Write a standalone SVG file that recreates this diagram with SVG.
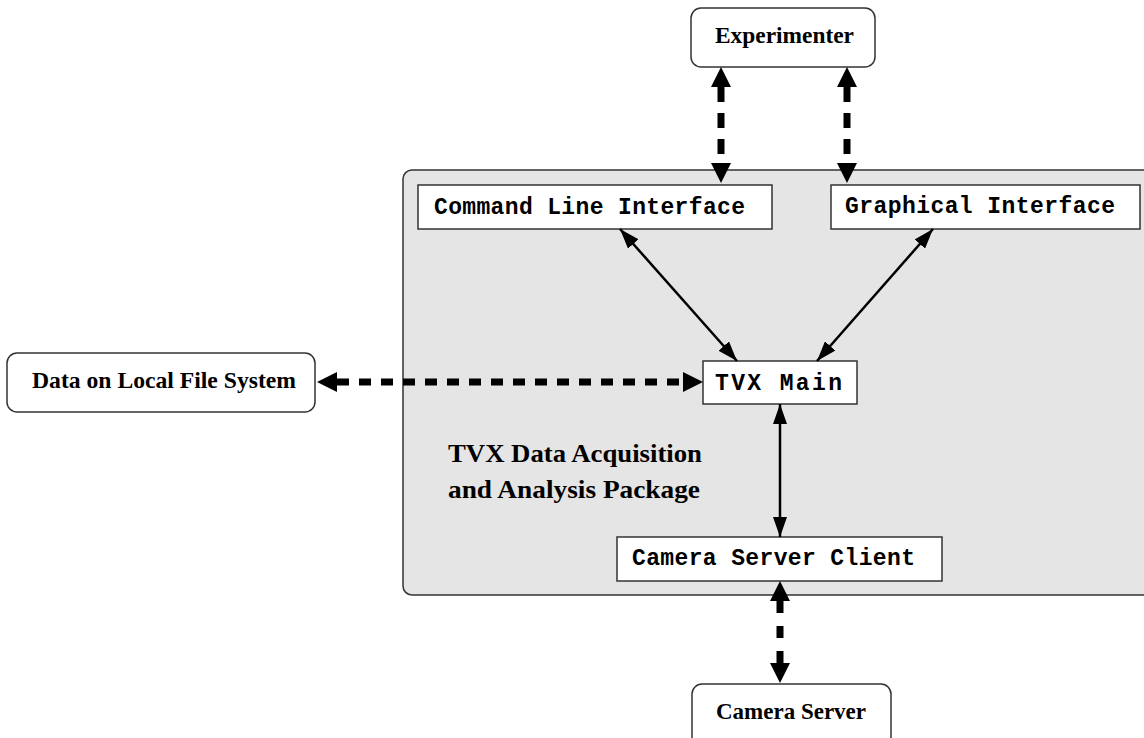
<svg xmlns="http://www.w3.org/2000/svg" width="1144" height="738" viewBox="0 0 1144 738">
<style>
.bg{fill:#fff}
.pkg{fill:#e5e5e5;stroke:#333;stroke-width:1.5}
.box{fill:#fff;stroke:#333;stroke-width:1.5}
.mono{font-family:"Liberation Mono","Courier New",monospace;font-weight:bold;font-size:23px;fill:#000}
.serif{font-family:"Liberation Serif","Times New Roman",serif;font-weight:bold;font-size:23px;fill:#000}
.big{font-size:26px}
.dash{stroke:#000;stroke-width:7;fill:none;marker-start:url(#bigHead);marker-end:url(#bigHead)}
.solid{stroke:#000;stroke-width:2.5;fill:none;marker-start:url(#smallHead);marker-end:url(#smallHead)}
</style>
<defs>
<marker id="bigHead" markerUnits="userSpaceOnUse" viewBox="0 0 20 20" markerWidth="20" markerHeight="20" refX="0" refY="10" orient="auto-start-reverse">
<path d="M0,0 L20,10 L0,20 Z" fill="#000"/>
</marker>
<marker id="smallHead" markerUnits="userSpaceOnUse" viewBox="0 0 20 14" markerWidth="20" markerHeight="14" refX="20" refY="7" orient="auto-start-reverse">
<path d="M0,0 L20,7 L0,14 Z" fill="#000"/>
</marker>
</defs>
<rect class="bg" x="0" y="0" width="1144" height="738"/>
<g id="package">
<rect class="pkg" x="403" y="170" width="760" height="425" rx="9"/>
<text class="serif big" x="448" y="462" textLength="254" lengthAdjust="spacingAndGlyphs">TVX Data Acquisition</text>
<text class="serif big" x="448" y="498" textLength="252" lengthAdjust="spacingAndGlyphs">and Analysis Package</text>
</g>
<g id="experimenter">
<rect class="box" x="691" y="8" width="184" height="59" rx="10"/>
<text class="serif" x="715" y="43" textLength="139" lengthAdjust="spacingAndGlyphs">Experimenter</text>
</g>
<g id="cli">
<rect class="box" x="418" y="185" width="354" height="44"/>
<text class="mono" x="434" y="214" textLength="311" lengthAdjust="spacing">Command Line Interface</text>
</g>
<g id="gui">
<rect class="box" x="831" y="185" width="309" height="44"/>
<text class="mono" x="845" y="213" textLength="270" lengthAdjust="spacing">Graphical Interface</text>
</g>
<g id="local-fs">
<rect class="box" x="7" y="353" width="308" height="59" rx="10"/>
<text class="serif" x="32" y="388" textLength="264" lengthAdjust="spacingAndGlyphs">Data on Local File System</text>
</g>
<g id="tvx-main">
<rect class="box" x="703" y="361" width="154" height="43"/>
<text class="mono" x="715" y="390" textLength="127" lengthAdjust="spacing">TVX Main</text>
</g>
<g id="camera-client">
<rect class="box" x="617" y="537" width="325" height="44"/>
<text class="mono" x="632" y="565" textLength="283" lengthAdjust="spacing">Camera Server Client</text>
</g>
<g id="camera-server">
<rect class="box" x="692" y="684" width="199" height="70" rx="10"/>
<text class="serif" x="716" y="719" textLength="150" lengthAdjust="spacingAndGlyphs">Camera Server</text>
</g>
<g id="connectors">
<path class="dash" stroke-dasharray="15 11" d="M721,87 L721,163"/>
<path class="dash" stroke-dasharray="15 11" d="M847,87 L847,163"/>
<path class="dash" stroke-dasharray="12 10" d="M337,382 L683,382"/>
<path class="dash" stroke-dasharray="12 13" d="M780,601 L780,663"/>
<path class="solid" d="M620,229 L737,361"/>
<path class="solid" d="M933,229 L817,361"/>
<path class="solid" d="M780,404 L780,537"/>
</g>
</svg>
